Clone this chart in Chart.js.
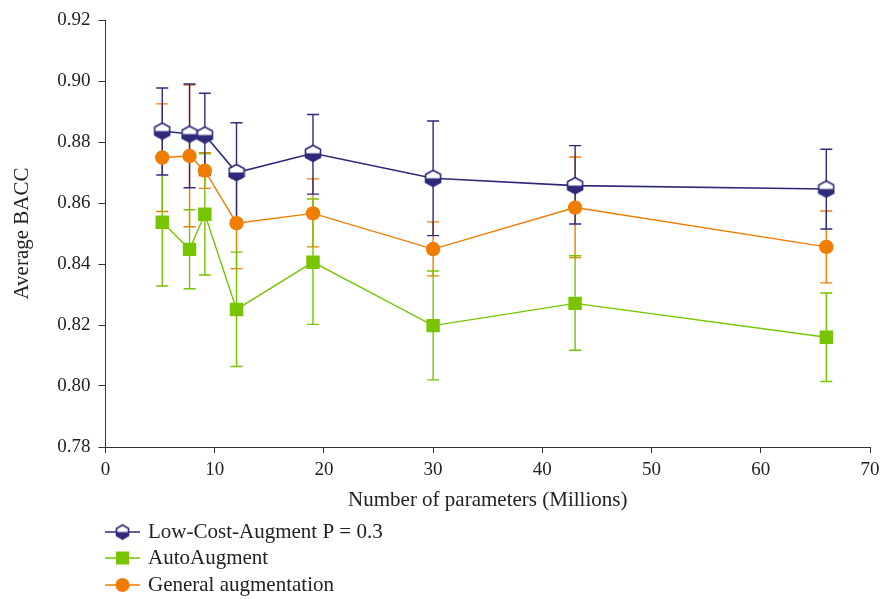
<!DOCTYPE html>
<html>
<head>
<meta charset="utf-8">
<script src="https://cdn.jsdelivr.net/npm/chart.js@4"></script>
<style>
  html, body { margin: 0; padding: 0; background: #fff; }
  #wrap { position: relative; width: 882px; height: 599px; }
</style>
</head>
<body>
<div id="wrap"><canvas id="chart" width="882" height="599"></canvas></div>
<script>
// data
const params = [5.2, 7.7, 9.1, 12, 19, 30, 43, 66];

const lowCost      = [0.8836, 0.8826, 0.8823, 0.8700, 0.8763, 0.8681, 0.8657, 0.8646];
const lowCostHigh  = [0.8977, 0.8990, 0.8960, 0.8863, 0.8890, 0.8869, 0.8788, 0.8776];
const lowCostLow   = [0.8692, 0.8650, 0.8690, 0.8535, 0.8629, 0.8493, 0.8531, 0.8515];

const autoAug      = [0.8537, 0.8448, 0.8563, 0.8251, 0.8406, 0.8198, 0.8271, 0.8160];
const autoAugHigh  = [0.8743, 0.8578, 0.8761, 0.8439, 0.8613, 0.8377, 0.8427, 0.8305];
const autoAugLow   = [0.8328, 0.8319, 0.8364, 0.8064, 0.8202, 0.8020, 0.8117, 0.8015];

const general      = [0.8749, 0.8754, 0.8706, 0.8534, 0.8566, 0.8449, 0.8585, 0.8456];
const generalHigh  = [0.8925, 0.8987, 0.8765, 0.8680, 0.8679, 0.8538, 0.8751, 0.8574];
const generalLow   = [0.8572, 0.8522, 0.8648, 0.8385, 0.8456, 0.8361, 0.8421, 0.8338];

const seriesNames = ["Low-Cost-Augment P = 0.3", "AutoAugment", "General augmentation"];

const NAVY = "#2e2a7b";
const GREEN = "#76c500";
const ORANGE = "#f07d00";
const FONT = "'Liberation Serif', 'DejaVu Serif', serif";

// half white / half navy hexagon marker
function hexMarker(w, h) {
    const c = document.createElement("canvas");
    c.width = w; c.height = h;
    const g = c.getContext("2d");
    const cx = w / 2, cy = h / 2, r = h / 2 - 1.5, hw = w / 2 - 1.5;
    const pts = [[cx, cy - r], [cx + hw, cy - r / 2], [cx + hw, cy + r / 2],
                 [cx, cy + r], [cx - hw, cy + r / 2], [cx - hw, cy - r / 2]];
    g.beginPath();
    pts.forEach((p, i) => i ? g.lineTo(p[0], p[1]) : g.moveTo(p[0], p[1]));
    g.closePath();
    g.fillStyle = "#fff";
    g.fill();
    g.save();
    g.clip();
    g.fillStyle = NAVY;
    g.fillRect(0, cy, w, h);
    g.restore();
    g.lineWidth = 1.6;
    g.strokeStyle = NAVY;
    g.stroke();
    return c;
}
const hexBig = hexMarker(18, 19);

const toPts = (ys) => params.map((x, i) => ({ x: x, y: ys[i] }));

const errorBars = [
    { low: lowCostLow, high: lowCostHigh, color: NAVY },
    { low: autoAugLow, high: autoAugHigh, color: GREEN },
    { low: generalLow, high: generalHigh, color: ORANGE },
];

const errorBarPlugin = {
    id: "errorBars",
    beforeDatasetsDraw(chart) {
        const ctx = chart.ctx;
        const xs = chart.scales.x, ys = chart.scales.y;
        ctx.save();
        // draw back to front so first series ends up on top
        for (let d = errorBars.length - 1; d >= 0; d--) {
            const eb = errorBars[d];
            ctx.strokeStyle = eb.color;
            ctx.lineWidth = 1.4;
            params.forEach((x, i) => {
                const px = xs.getPixelForValue(x);
                const top = ys.getPixelForValue(eb.high[i]);
                const bot = ys.getPixelForValue(eb.low[i]);
                ctx.beginPath();
                ctx.moveTo(px, top); ctx.lineTo(px, bot);
                ctx.moveTo(px - 6, top); ctx.lineTo(px + 6, top);
                ctx.moveTo(px - 6, bot); ctx.lineTo(px + 6, bot);
                ctx.stroke();
            });
        }
        ctx.restore();
    }
};

// legend drawn by hand, stacked at the bottom-left
const legendPlugin = {
    id: "stackLegend",
    afterDraw(chart) {
        const ctx = chart.ctx;
        const rows = [532, 558, 585];
        const colors = [NAVY, GREEN, ORANGE];
        ctx.save();
        ctx.font = "21px " + FONT;
        ctx.textBaseline = "middle";
        rows.forEach((y, i) => {
            ctx.strokeStyle = colors[i];
            ctx.lineWidth = 1.4;
            ctx.beginPath();
            ctx.moveTo(105, y); ctx.lineTo(140, y);
            ctx.stroke();
            if (i === 0) {
                ctx.drawImage(hexMarker(15, 17), 115, y - 8.5);
            } else if (i === 1) {
                ctx.fillStyle = GREEN;
                ctx.fillRect(116, y - 6.5, 13, 13);
            } else {
                ctx.fillStyle = ORANGE;
                ctx.beginPath();
                ctx.arc(122.5, y, 7, 0, Math.PI * 2);
                ctx.fill();
            }
            ctx.fillStyle = "#222";
            ctx.fillText(seriesNames[i], 148, y);
        });
        ctx.restore();
    }
};

const data = {
    datasets: [
        {
            label: seriesNames[0],
            data: toPts(lowCost),
            borderColor: NAVY,
            borderWidth: 1.6,
            pointStyle: hexBig,
            pointRadius: 10,
        },
        {
            label: seriesNames[1],
            data: toPts(autoAug),
            borderColor: GREEN,
            backgroundColor: GREEN,
            borderWidth: 1.4,
            pointStyle: "rect",
            pointRadius: 9.5,
            pointBorderWidth: 0,
        },
        {
            label: seriesNames[2],
            data: toPts(general),
            borderColor: ORANGE,
            backgroundColor: ORANGE,
            borderWidth: 1.4,
            pointStyle: "circle",
            pointRadius: 7.2,
            pointBorderWidth: 0,
        },
    ],
};

const axisColor = "#333";

const config = {
    type: "line",
    data,
    plugins: [errorBarPlugin, legendPlugin],
    options: {
        responsive: false,
        animation: false,
        layout: { padding: { left: 6, right: 12, top: 20, bottom: 82 } },
        plugins: {
            legend: { display: false },
            tooltip: { enabled: false },
        },
        scales: {
            x: {
                type: "linear",
                min: 0, max: 70,
                afterFit: (scale) => { scale.paddingRight = 0; },
                ticks: { stepSize: 10, color: "#222", font: { family: FONT, size: 19 }, padding: 6 },
                grid: { drawOnChartArea: false, tickLength: 6, color: axisColor, tickColor: axisColor },
                border: { color: axisColor, width: 1 },
                title: {
                    display: true,
                    text: "Number of parameters (Millions)",
                    color: "#222",
                    font: { family: FONT, size: 21 },
                    padding: { top: 0 },
                },
            },
            y: {
                min: 0.78, max: 0.92,
                ticks: {
                    stepSize: 0.02, color: "#222", font: { family: FONT, size: 19 }, padding: 8,
                    callback: (v) => v.toFixed(2),
                },
                grid: { drawOnChartArea: false, tickLength: 7, color: axisColor, tickColor: axisColor },
                border: { color: axisColor, width: 1 },
                title: {
                    display: true,
                    text: "Average BACC",
                    color: "#222",
                    font: { family: FONT, size: 21 },
                    padding: { bottom: 14 },
                },
            },
        },
    },
};

const myChart = new Chart(document.getElementById("chart"), config);
</script>
</body>
</html>
